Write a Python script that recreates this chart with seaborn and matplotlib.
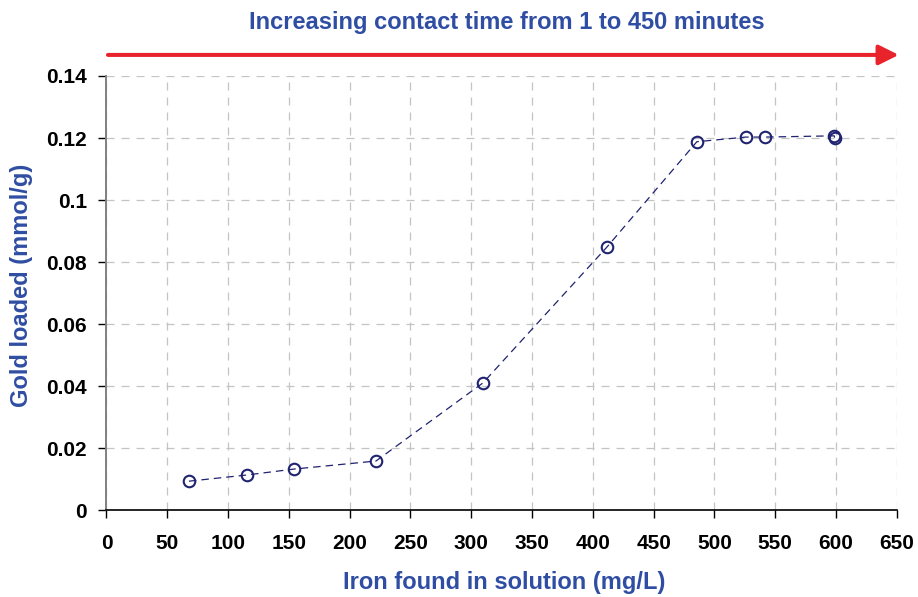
import matplotlib
matplotlib.use("Agg")
import matplotlib.pyplot as plt
from matplotlib.ticker import FuncFormatter
import seaborn as sns
import pandas as pd

# Iron concentration in solution vs gold loading, in contact-time order
iron_mg_per_l = [67.8, 115.5, 154.0, 221.6, 309.6, 411.5, 485.5, 525.8, 541.4, 598.5, 598.8]
gold_mmol_per_g = [0.0093, 0.0113, 0.0132, 0.0158, 0.0410, 0.0848, 0.1188, 0.1203, 0.1203, 0.1207, 0.1201]

x_ticks = list(range(0, 651, 50))
y_ticks = [0, 0.02, 0.04, 0.06, 0.08, 0.10, 0.12, 0.14]

title_text = "Increasing contact time from 1 to 450 minutes"
x_label = "Iron found in solution (mg/L)"
y_label = "Gold loaded (mmol/g)"

df = pd.DataFrame({"iron": iron_mg_per_l, "gold": gold_mmol_per_g})

sns.set_theme(style="white")
plt.rcParams["font.family"] = ["Liberation Sans", "DejaVu Sans"]

label_blue = "#2f4ea3"
navy = "#1f2370"

fig = plt.figure(figsize=(9.18, 5.97), dpi=100)
ax = fig.add_axes([0.116, 0.1457, 0.861, 0.727])

sns.lineplot(
    data=df, x="iron", y="gold", ax=ax, sort=False, estimator=None,
    color=navy, linewidth=0.9, linestyle=(0, (6, 4)),
    marker="o", markersize=8.3, markerfacecolor="none",
    markeredgecolor=navy, markeredgewidth=1.5,
)

ax.set_xlim(0, 650)
ax.set_ylim(0, 0.14)
ax.set_xticks(x_ticks)
ax.set_yticks(y_ticks)
ax.yaxis.set_major_formatter(FuncFormatter(lambda v, _: f"{v:g}"))

ax.grid(True, linestyle=(0, (6.4, 5.6)), color="#c4c4c4", linewidth=0.9)
ax.set_axisbelow(True)

for side in ("top", "right"):
    ax.spines[side].set_visible(False)
ax.spines["left"].set_color("#808080")
ax.spines["left"].set_linewidth(1.4)
ax.spines["bottom"].set_color("black")
ax.spines["bottom"].set_linewidth(1.2)

ax.tick_params(axis="x", direction="out", length=6, width=1, colors="black",
               labelsize=15, pad=11, bottom=True)
ax.tick_params(axis="y", direction="out", length=6, width=1, colors="black",
               labelsize=15, pad=8, left=True)
for lbl in ax.get_xticklabels() + ax.get_yticklabels():
    lbl.set_fontweight("bold")

ax.set_xlabel(x_label, fontsize=17, fontweight="bold", color=label_blue)
ax.set_ylabel(y_label, fontsize=17, fontweight="bold", color=label_blue)
ax.xaxis.set_label_coords(0.503, -0.141)
ax.yaxis.set_label_coords(-0.0925, 0.518)

# Contact-time arrow and caption above the plot
fig.text(0.552, 0.963, title_text, ha="center", va="center",
         fontsize=17, fontweight="bold", color=label_blue)
ax.annotate(
    "", xy=(0.979, 0.908), xytext=(0.1176, 0.908), xycoords="figure fraction",
    arrowprops=dict(arrowstyle="-|>,head_length=1.0,head_width=0.5",
                    color="#e8232b", lw=2.9, shrinkA=0, shrinkB=0),
)

fig.savefig("out.png", dpi=100)
